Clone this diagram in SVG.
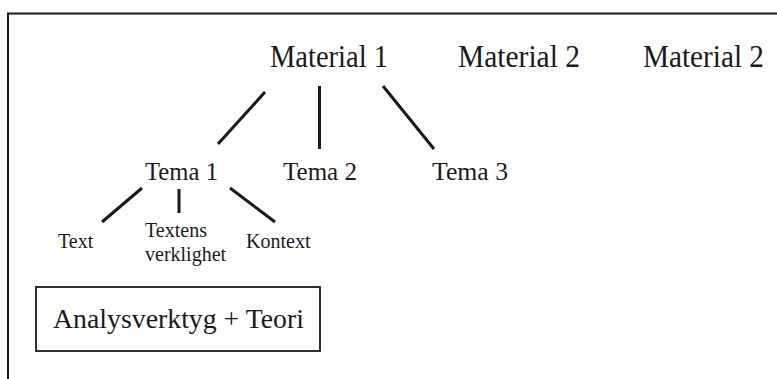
<svg xmlns="http://www.w3.org/2000/svg" width="777" height="379" viewBox="0 0 777 379">
<style>
text{font-family:"Liberation Serif","Times New Roman",serif;fill:#1a1a1a}
.m{font-size:30.5px}
.t{font-size:25.5px}
.s{font-size:20px}
.c line{stroke:#1a1a1a;stroke-width:3;stroke-linecap:butt}
</style>
<rect width="777" height="379" fill="#fff"/>
<g id="frame" stroke="#1a1a1a" stroke-width="2" fill="none">
<line x1="7" y1="13.5" x2="777" y2="13.5"/>
<line x1="8" y1="13" x2="8" y2="379"/>
</g>
<g id="connectors" class="c">
<line x1="265" y1="92" x2="218" y2="144"/>
<line x1="319.5" y1="86" x2="319.5" y2="149"/>
<line x1="383" y1="86" x2="434" y2="149"/>
<line x1="142" y1="188" x2="102" y2="222"/>
<line x1="179" y1="189" x2="179" y2="213"/>
<line x1="230" y1="188" x2="275" y2="222"/>
</g>
<g id="material1"><text class="m" x="270" y="67" textLength="118" lengthAdjust="spacingAndGlyphs">Material 1</text></g>
<g id="material2a"><text class="m" x="458" y="67" textLength="122" lengthAdjust="spacingAndGlyphs">Material 2</text></g>
<g id="material2b"><text class="m" x="643" y="67" textLength="121" lengthAdjust="spacingAndGlyphs">Material 2</text></g>
<g id="tema1"><text class="t" x="145" y="180" textLength="73" lengthAdjust="spacingAndGlyphs">Tema 1</text></g>
<g id="tema2"><text class="t" x="283" y="180" textLength="74" lengthAdjust="spacingAndGlyphs">Tema 2</text></g>
<g id="tema3"><text class="t" x="432" y="180" textLength="76" lengthAdjust="spacingAndGlyphs">Tema 3</text></g>
<g id="text"><text class="s" x="58" y="248">Text</text></g>
<g id="textens"><text class="s" x="145" y="237">Textens</text><text class="s" x="145" y="261">verklighet</text></g>
<g id="kontext"><text class="s" x="246" y="248">Kontext</text></g>
<g id="analys">
<rect x="36" y="287" width="284" height="64" fill="none" stroke="#1a1a1a" stroke-width="1.8"/>
<text x="53" y="328" style="font-size:27.5px" textLength="251" lengthAdjust="spacingAndGlyphs">Analysverktyg + Teori</text>
</g>
</svg>
